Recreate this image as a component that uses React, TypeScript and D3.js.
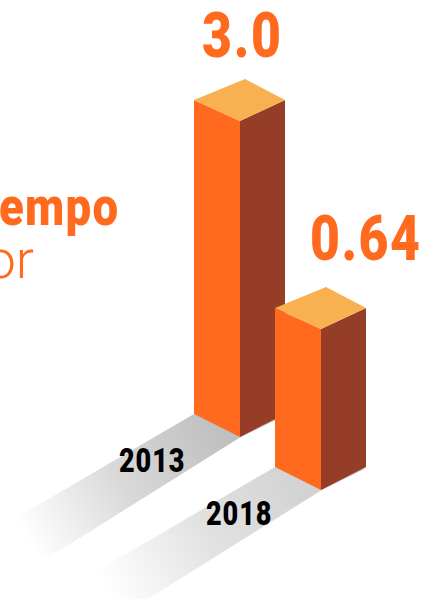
import React from "react";
import * as d3 from "d3";

const years = ["2013", "2018"];
const values = [3.0, 0.64];
const valueLabels = ["3.0", "0.64"];
const titleFragments = ["empo", "or", "s"];
const shadowShades = ["#bfbfbf", "#d2d2d2"];
const shadowMids = ["#d8d8d8", "#e2e2e2"];

const W = 425, H = 599;
const ORANGE = "#ff6a1f", DARK = "#953d26", TOP = "#f8b051";
const FONT = "Roboto, sans-serif";

const xScale = d3.scalePoint<string>().domain(years).range([240, 321]);
const baseScale = d3.scalePoint<string>().domain(years).range([437, 490]);
const heightScale = d3.scaleLinear().domain([0.64, 3.0]).range([161, 316]);
const poly = (pts: [number, number][]) => pts.map((p) => p.join(",")).join(" ");

function Cond(props: { x: number; y: number; w: number; k: number; size: number; weight: number; fill: string; children: string }) {
  const { x, y, w, k, size, weight, fill, children } = props;
  return (
    <text transform={`translate(${x},${y}) scale(${k},1)`} fontFamily={FONT} fontSize={size} fontWeight={weight}
      fill={fill} textLength={w / k} lengthAdjust="spacing">{children}</text>
  );
}

export default function App() {
  const bars = years.map((y, i) => ({
    year: y,
    label: valueLabels[i],
    shade: shadowShades[i],
    mid: shadowMids[i],
    x: xScale(y) as number,
    base: baseScale(y) as number,
    h: heightScale(values[i]),
  }));
  return (
    <svg width={W} height={H} viewBox={`0 0 ${W} ${H}`}
      style={{ position: "absolute", left: 0, top: 0, display: "block", background: "#fff" }}>
      <defs>
        {bars.map((b) => (
          <linearGradient key={b.year} id={`sh${b.year}`} gradientUnits="userSpaceOnUse"
            x1={b.x - 20} y1={b.base - 12} x2={b.x - 212} y2={b.base + 103}>
            <stop offset="0" stopColor={b.shade} />
            <stop offset="0.5" stopColor={b.mid} />
            <stop offset="1" stopColor="#ffffff" />
          </linearGradient>
        ))}
      </defs>

      {[...bars].reverse().map((b) => (
        <polygon key={b.year} fill={`url(#sh${b.year})`} points={poly([
          [b.x - 46, b.base - 23],
          [b.x - 226, b.base + 82],
          [b.x - 197, b.base + 124],
          [b.x, b.base + 0.5],
          [b.x + 45, b.base - 21.5],
        ])} />
      ))}

      {bars.map((b) => {
        const t = b.base - b.h;
        return (
          <g key={b.year}>
            <polygon fill={ORANGE} points={poly([[b.x - 46, t - 21], [b.x, t], [b.x, b.base], [b.x - 46, b.base - 23]])} />
            <polygon fill={DARK} points={poly([[b.x, t], [b.x + 45, t - 21], [b.x + 45, b.base - 23], [b.x, b.base]])} />
            <polygon fill={TOP} points={poly([[b.x - 46, t - 21], [b.x + 5, t - 42], [b.x + 45, t - 21], [b.x, t]])} />
          </g>
        );
      })}

      <Cond x={202} y={57} w={79} k={0.82} size={63} weight={900} fill={ORANGE}>{bars[0].label}</Cond>
      <Cond x={310} y={260} w={110} k={0.82} size={63} weight={900} fill={ORANGE}>{bars[1].label}</Cond>
      <Cond x={119} y={472} w={65.5} k={0.82} size={33} weight={900} fill="#000">{bars[0].year}</Cond>
      <Cond x={206} y={525} w={65.5} k={0.82} size={33} weight={900} fill="#000">{bars[1].year}</Cond>
      <Cond x={-1} y={225} w={119} k={0.86} size={53} weight={900} fill={ORANGE}>{titleFragments[0]}</Cond>

      <g fontFamily={FONT} fill={ORANGE} fontSize={54} fontWeight={300}>
        <text x={34} y={278} textAnchor="end">{titleFragments[1]}</text>
        <text x={2} y={327} textAnchor="end">{titleFragments[2]}</text>
      </g>
    </svg>
  );
}
